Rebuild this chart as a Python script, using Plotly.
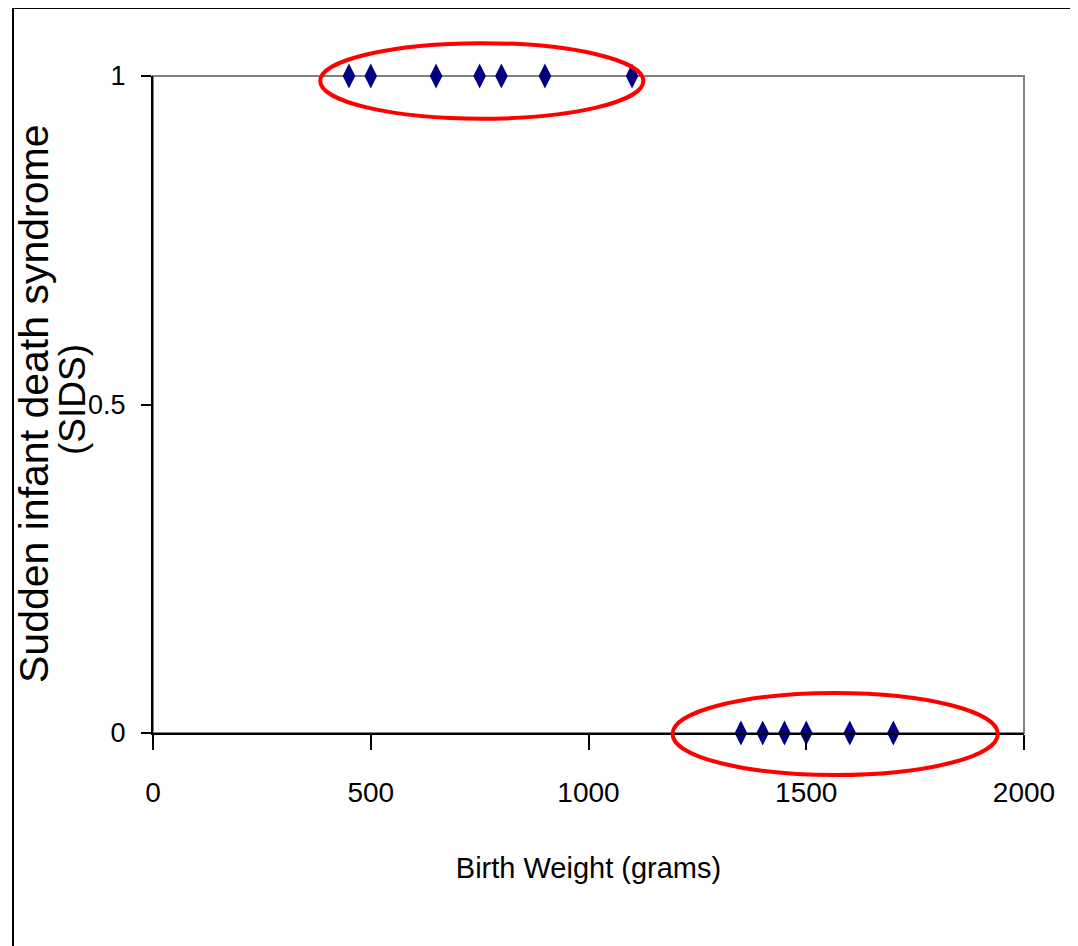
import plotly.graph_objects as go

# ---- data ----
sids_weights = [450, 500, 650, 750, 800, 900, 1100]
sids_values = [1, 1, 1, 1, 1, 1, 1]
nosids_weights = [1350, 1400, 1450, 1500, 1600, 1700]
nosids_values = [0, 0, 0, 0, 0, 0]

x_ticks = [0, 500, 1000, 1500, 2000]
y_ticks = [0, 0.5, 1]
y_tick_labels = ["0", "0.5", "1"]

# highlight ellipses (data units): x0, x1, y0, y1
ellipse_top = [384, 1126, 0.935, 1.05]
ellipse_bottom = [1193, 1940, -0.064, 0.061]

X_RANGE = [0, 2000]
Y_RANGE = [0, 1]

# ---- layout geometry (page body has an 8px margin) ----
OFF = 8
W, H = 1078 - OFF, 946 - OFF
ML, MR, MT, MB = 153 - OFF, 54, 76 - OFF, 213
PW = W - ML - MR
PH = H - MT - MB

FONT = "Liberation Sans, Arial, sans-serif"


def px_to_paper_x(px):
    # px in screenshot coordinates
    return (px - OFF - ML) / PW


def px_to_paper_y(py):
    return (H - MB - (py - OFF)) / PH


def dx(v):
    return (v - X_RANGE[0]) / (X_RANGE[1] - X_RANGE[0])


def dy(v):
    return (v - Y_RANGE[0]) / (Y_RANGE[1] - Y_RANGE[0])


fig = go.Figure()

marker = dict(symbol="diamond-tall", size=18, color="#000080",
              line=dict(width=0))

fig.add_trace(go.Scatter(x=sids_weights, y=sids_values, mode="markers",
                         marker=marker, cliponaxis=False, showlegend=False))
fig.add_trace(go.Scatter(x=nosids_weights, y=nosids_values, mode="markers",
                         marker=marker, cliponaxis=False, showlegend=False))

shapes = []
# plot-area border (grey), axes drawn black on top of left/bottom
shapes.append(dict(type="rect", xref="paper", yref="paper", x0=0, x1=1, y0=0, y1=1,
                   line=dict(color="#808080", width=2), layer="below"))
# outer chart border
shapes.append(dict(type="rect", xref="paper", yref="paper",
                   x0=px_to_paper_x(13), x1=px_to_paper_x(1077),
                   y0=px_to_paper_y(970), y1=px_to_paper_y(8),
                   line=dict(color="#000000", width=2), layer="below"))
for e in (ellipse_top, ellipse_bottom):
    shapes.append(dict(type="circle", xref="paper", yref="paper",
                       x0=dx(e[0]), x1=dx(e[1]), y0=dy(e[2]), y1=dy(e[3]),
                       line=dict(color="#FF0000", width=4)))

annotations = [
    dict(text="Sudden infant death syndrome", textangle=-90, showarrow=False,
         xref="paper", yref="paper", x=px_to_paper_x(34), y=px_to_paper_y(404),
         xanchor="center", yanchor="middle",
         font=dict(family=FONT, size=41, color="#000000")),
    dict(text="(SIDS)", textangle=-90, showarrow=False,
         xref="paper", yref="paper", x=px_to_paper_x(72), y=px_to_paper_y(400),
         xanchor="center", yanchor="middle",
         font=dict(family=FONT, size=37, color="#000000")),
]

fig.update_layout(
    width=W, height=H,
    margin=dict(l=ML, r=MR, t=MT, b=MB, pad=0),
    paper_bgcolor="#FFFFFF", plot_bgcolor="#FFFFFF",
    font=dict(family=FONT, color="#000000"),
    shapes=shapes,
    annotations=annotations,
    xaxis=dict(
        range=X_RANGE, tickmode="array", tickvals=x_ticks,
        ticktext=[str(v) for v in x_ticks],
        showgrid=False, zeroline=False,
        showline=True, linecolor="#000000", linewidth=2,
        ticks="outside", ticklen=15, tickwidth=2, tickcolor="#000000",
        tickfont=dict(family=FONT, size=28, color="#000000"),
        ticklabelstandoff=18,
        title=dict(text="Birth Weight (grams)",
                   font=dict(family=FONT, size=29, color="#000000"),
                   standoff=51),
    ),
    yaxis=dict(
        range=Y_RANGE, tickmode="array", tickvals=y_ticks, ticktext=y_tick_labels,
        showgrid=False, zeroline=False,
        showline=True, linecolor="#000000", linewidth=2,
        ticks="outside", ticklen=10, tickwidth=2, tickcolor="#000000",
        tickfont=dict(family=FONT, size=27, color="#000000"),
        ticklabelstandoff=10,
    ),
)

fig.write_html("out.html")
